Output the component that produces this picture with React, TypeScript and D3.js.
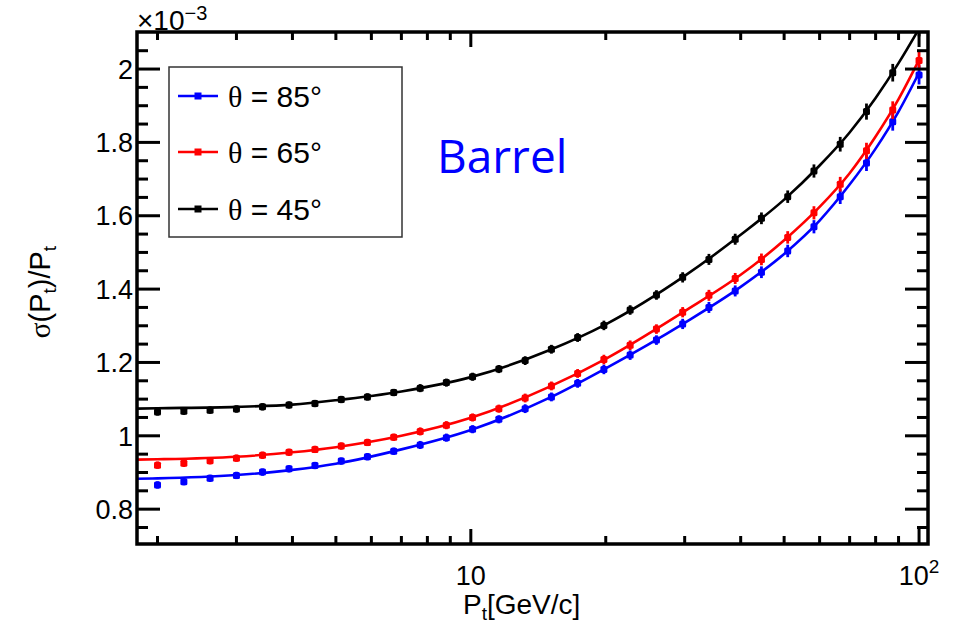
import React from "react";
import * as d3 from "d3";

// Pt values (GeV/c) of the measured points
const ptValues = [2.0, 2.29, 2.62, 3.0, 3.43, 3.93, 4.49, 5.14, 5.88, 6.73, 7.71, 8.82, 10.09, 11.55, 13.22, 15.13, 17.31, 19.81, 22.67, 25.95, 29.69, 33.98, 38.89, 44.5, 50.93, 58.28, 66.7, 76.33, 87.35, 100.0];
// sigma(Pt)/Pt in units of 1e-3
const sigma85 = [0.866, 0.875, 0.884, 0.892, 0.901, 0.91, 0.919, 0.931, 0.943, 0.958, 0.975, 0.995, 1.018, 1.045, 1.074, 1.106, 1.143, 1.181, 1.22, 1.261, 1.305, 1.35, 1.395, 1.446, 1.504, 1.57, 1.652, 1.744, 1.856, 1.984];
const sigma65 = [0.92, 0.925, 0.932, 0.939, 0.947, 0.955, 0.963, 0.972, 0.982, 0.996, 1.012, 1.029, 1.05, 1.074, 1.103, 1.136, 1.17, 1.208, 1.247, 1.291, 1.337, 1.383, 1.429, 1.481, 1.541, 1.608, 1.686, 1.777, 1.888, 2.023];
const sigma45 = [1.065, 1.067, 1.07, 1.073, 1.079, 1.084, 1.088, 1.099, 1.106, 1.118, 1.13, 1.145, 1.161, 1.182, 1.205, 1.236, 1.268, 1.301, 1.343, 1.384, 1.432, 1.481, 1.536, 1.593, 1.652, 1.722, 1.795, 1.884, 1.99, 2.115];
const errValues = [0.01, 0.01, 0.01, 0.01, 0.01, 0.01, 0.01, 0.01, 0.01, 0.01, 0.011, 0.011, 0.011, 0.011, 0.012, 0.012, 0.012, 0.013, 0.013, 0.013, 0.014, 0.015, 0.015, 0.016, 0.017, 0.018, 0.02, 0.022, 0.024, 0.026];

// fit curves
const fitPt = [1.8, 2, 3, 4, 5, 7, 10, 15, 20, 30, 40, 50, 60, 70, 80, 90, 100];
const fit85 = [0.883, 0.884, 0.893, 0.907, 0.924, 0.963, 1.016, 1.104, 1.184, 1.308, 1.406, 1.496, 1.587, 1.685, 1.783, 1.884, 1.99];
const fit65 = [0.935, 0.936, 0.943, 0.955, 0.969, 1.0, 1.049, 1.134, 1.21, 1.34, 1.439, 1.533, 1.624, 1.716, 1.816, 1.918, 2.025];
const fit45 = [1.074, 1.075, 1.079, 1.085, 1.097, 1.121, 1.16, 1.234, 1.304, 1.436, 1.548, 1.644, 1.737, 1.827, 1.921, 2.016, 2.11];

const seriesAngles = ["85°", "65°", "45°"];
const seriesColors = ["#0000ff", "#ff0000", "#000000"];

const xMajorTicks = [10, 100];
const xMinorTicks = [2, 3, 4, 5, 6, 7, 8, 9, 20, 30, 40, 50, 60, 70, 80, 90];
const yMajorTicks = [0.8, 1.0, 1.2, 1.4, 1.6, 1.8, 2.0];
const yTickLabels = ["0.8", "1", "1.2", "1.4", "1.6", "1.8", "2"];
const yMinorTicks = [0.75, 0.85, 0.9, 0.95, 1.05, 1.1, 1.15, 1.25, 1.3, 1.35, 1.45, 1.5, 1.55, 1.65, 1.7, 1.75, 1.85, 1.9, 1.95, 2.05];

const W = 954, H = 625;
const L = 137, R = 928, T = 32, B = 544;
const FONT = "'Liberation Sans', Arial, Helvetica, sans-serif";
const SERIF = "'Liberation Serif', 'DejaVu Serif', serif";

export default function App() {
  const x = d3.scaleLog().domain([1.8, 104.7]).range([L, R]);
  const y = d3.scaleLinear().domain([0.705, 2.101]).range([B, T]);
  const line = d3
    .line<[number, number]>()
    .x((d) => x(d[0]))
    .y((d) => y(d[1]))
    .curve(d3.curveMonotoneX);

  const data = [sigma85, sigma65, sigma45];
  const fits = [fit85, fit65, fit45];
  const legendY = [96, 152, 209];

  return (
    <svg
      width={W}
      height={H}
      style={{ position: "absolute", left: 0, top: 0, background: "#fff" }}
      fontFamily={FONT}
    >
      <defs>
        <clipPath id="plotclip">
          <rect x={L} y={T} width={R - L} height={B - T} />
        </clipPath>
      </defs>
      <rect x={0} y={0} width={W} height={H} fill="#fff" />

      <g clipPath="url(#plotclip)">
        {fits.map((f, si) => (
          <path
            key={"fit" + si}
            d={line(fitPt.map((p, i) => [p, f[i]]) as [number, number][]) || ""}
            fill="none"
            stroke={seriesColors[si]}
            strokeWidth={2.6}
          />
        ))}
        {data.map((vals, si) => (
          <g key={"pts" + si} fill={seriesColors[si]} stroke={seriesColors[si]}>
            {vals.map((v, i) => (
              <g key={i}>
                <line
                  x1={x(ptValues[i])}
                  x2={x(ptValues[i])}
                  y1={y(v - errValues[i])}
                  y2={y(v + errValues[i])}
                  strokeWidth={2.8}
                />
                <rect
                  x={x(ptValues[i]) - 3.5}
                  y={y(v) - 3.5}
                  width={7}
                  height={7}
                  rx={1.5}
                  stroke="none"
                />
              </g>
            ))}
          </g>
        ))}
      </g>

      {/* axes ticks */}
      <g stroke="#000" strokeWidth={3}>
        {yMajorTicks.map((t) => (
          <g key={"ym" + t}>
            <line x1={L} x2={L + 23} y1={y(t)} y2={y(t)} />
            <line x1={R} x2={R - 23} y1={y(t)} y2={y(t)} />
          </g>
        ))}
        {yMinorTicks.map((t) => (
          <g key={"yn" + t}>
            <line x1={L} x2={L + 11} y1={y(t)} y2={y(t)} />
            <line x1={R} x2={R - 11} y1={y(t)} y2={y(t)} />
          </g>
        ))}
        {xMajorTicks.map((t) => (
          <g key={"xm" + t}>
            <line x1={x(t)} x2={x(t)} y1={B} y2={B - 15} />
            <line x1={x(t)} x2={x(t)} y1={T} y2={T + 15} />
          </g>
        ))}
        {xMinorTicks.map((t) => (
          <g key={"xn" + t}>
            <line x1={x(t)} x2={x(t)} y1={B} y2={B - 8} />
            <line x1={x(t)} x2={x(t)} y1={T} y2={T + 8} />
          </g>
        ))}
      </g>
      <rect x={L} y={T} width={R - L} height={B - T} fill="none" stroke="#000" strokeWidth={3.5} />

      {/* tick labels */}
      <g fontSize={27} fill="#000">
        {yMajorTicks.map((t, i) => (
          <text key={"yl" + t} x={133} y={y(t)} dy="0.36em" textAnchor="end">
            {yTickLabels[i]}
          </text>
        ))}
        <text x={x(10)} y={585} textAnchor="middle">10</text>
        <text x={x(100)} y={585} textAnchor="middle">
          10<tspan fontSize={19} dy={-12}>2</tspan>
        </text>
        <text x={137} y={30} fontSize={28}>
          ×10<tspan fontSize={20} dy={-10}>−3</tspan>
        </text>
      </g>

      {/* axis titles */}
      <text x={463} y={614} fontSize={28}>
        P<tspan fontSize={19} dy={6}>t</tspan>
        <tspan dy={-6}>[GeV/c]</tspan>
      </text>
      <text transform="translate(50,292) rotate(-90)" fontSize={29} textAnchor="middle">
        <tspan fontFamily={SERIF}>σ</tspan>(P<tspan fontSize={19} dy={6}>t</tspan>
        <tspan dy={-6}>)/P</tspan>
        <tspan fontSize={19} dy={6}>t</tspan>
      </text>

      {/* legend */}
      <rect x={169} y={67} width={233} height={170} fill="#fff" stroke="#333" strokeWidth={1.5} />
      {seriesAngles.map((n, i) => (
        <g key={"lg" + i}>
          <line x1={178} x2={218} y1={legendY[i]} y2={legendY[i]} stroke={seriesColors[i]} strokeWidth={2.6} />
          <rect x={194.5} y={legendY[i] - 3.5} width={7} height={7} fill={seriesColors[i]} />
          <text x={228} y={legendY[i] + 11} fontSize={30} fill="#000">
            <tspan fontFamily={SERIF}>θ</tspan> = {n}
          </text>
        </g>
      ))}

      <text x={437} y={173} fontSize={46} fill="#0000ff" fontFamily="'Open Sans', sans-serif">
        Barrel
      </text>
    </svg>
  );
}
